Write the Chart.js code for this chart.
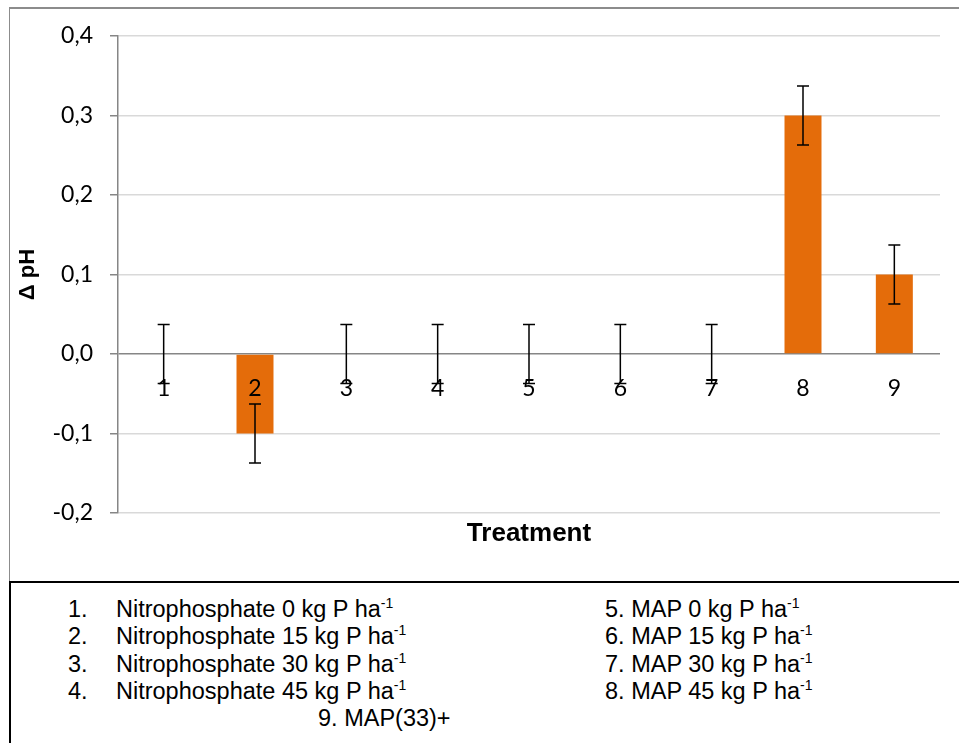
<!DOCTYPE html>
<html>
<head>
<meta charset="utf-8">
<title>Δ pH by treatment</title>
<script src="https://cdn.jsdelivr.net/npm/chart.js"></script>
<style>
  html, body { margin: 0; padding: 0; background: #fff; }
  body { position: relative; width: 959px; height: 743px; overflow: hidden;
         font-family: "Liberation Sans", Arial, sans-serif; color: #000; }
  #frame { position: absolute; left: 9px; top: 7px; width: 960px; height: 590px;
           border-left: 1px solid #8c8c8c; border-top: 2px solid #8c8c8c; }
  #plot { position: absolute; left: 0; top: 0; }
  #key { position: absolute; left: 9px; top: 581px; width: 960px; height: 170px;
         border-top: 2px solid #000; border-left: 2px solid #000; background: #fff; }
  .line { position: absolute; font-size: 23.5px; line-height: 27px; white-space: nowrap; }
  .line sup { font-size: 14px; line-height: 0; vertical-align: 9px; }
</style>
</head>
<body>
<div id="frame"></div>
<canvas id="plot" width="959" height="582"></canvas>
<div id="key"></div>

<script>
// treatments on the x axis
const categories = ['1', '2', '3', '4', '5', '6', '7', '8', '9'];
// change in pH per treatment and its error
const deltaPH = [0, -0.1, 0, 0, 0, 0, 0, 0.3, 0.1];
const errPH = [0.037, 0.037, 0.037, 0.037, 0.037, 0.037, 0.037, 0.037, 0.037];
// y axis ticks
const yTicks = [-0.2, -0.1, 0, 0.1, 0.2, 0.3, 0.4];

// key under the chart
const keyLeft = ['Nitrophosphate 0 kg P ha', 'Nitrophosphate 15 kg P ha',
                 'Nitrophosphate 30 kg P ha', 'Nitrophosphate 45 kg P ha'];
const keyRight = ['5. MAP 0 kg P ha', '6. MAP 15 kg P ha', '7. MAP 30 kg P ha', '8. MAP 45 kg P ha'];
const keyLast = '9. MAP(33)+';

function buildKey() {
  const key = document.getElementById('key');
  const rowTop = i => 13 + i * 27.3;
  const add = (html, left, top) => {
    const d = document.createElement('div');
    d.className = 'line';
    d.style.left = left + 'px';
    d.style.top = top + 'px';
    d.innerHTML = html;
    key.appendChild(d);
  };
  keyLeft.forEach((t, i) => {
    add((i + 1) + '.', 57, rowTop(i));
    add(t + '<sup>-1</sup>', 105, rowTop(i));
  });
  keyRight.forEach((t, i) => add(t + '<sup>-1</sup>', 594, rowTop(i)));
  add(keyLast, 307, rowTop(4));
}
buildKey();

const fmt = v => v.toFixed(1).replace('.', ',');

// whiskers for each bar
const errorBars = {
  id: 'errorBars',
  afterDatasetsDraw(chart) {
    const { ctx, scales: { y } } = chart;
    const meta = chart.getDatasetMeta(0);
    ctx.save();
    ctx.strokeStyle = '#000';
    ctx.lineWidth = 1.5;
    meta.data.forEach((bar, i) => {
      const top = y.getPixelForValue(deltaPH[i] + errPH[i]);
      const bot = y.getPixelForValue(deltaPH[i] - errPH[i]);
      ctx.beginPath();
      ctx.moveTo(bar.x, top); ctx.lineTo(bar.x, bot);
      ctx.moveTo(bar.x - 6, top); ctx.lineTo(bar.x + 6, top);
      ctx.moveTo(bar.x - 6, bot); ctx.lineTo(bar.x + 6, bot);
      ctx.stroke();
    });
    ctx.restore();
  }
};

// category numbers sit just under the zero line
const zeroLabels = {
  id: 'zeroLabels',
  afterDraw(chart) {
    const { ctx, scales: { x, y } } = chart;
    const y0 = y.getPixelForValue(0);
    ctx.save();
    ctx.fillStyle = '#000';
    ctx.font = '23px Lato, "Open Sans", sans-serif';
    ctx.textAlign = 'center';
    ctx.textBaseline = 'middle';
    categories.forEach((c, i) => ctx.fillText(c, x.getPixelForValue(i), y0 + 35));
    ctx.restore();
  }
};

Chart.defaults.color = '#000';

new Chart(document.getElementById('plot'), {
  type: 'bar',
  data: {
    labels: categories,
    datasets: [{
      data: deltaPH,
      backgroundColor: '#E46C0A',
      categoryPercentage: 1,
      barPercentage: 0.405
    }]
  },
  options: {
    responsive: false,
    animation: false,
    devicePixelRatio: 1,
    layout: { padding: { left: 0, top: 36, right: 19, bottom: 21 } },
    plugins: { legend: { display: false }, tooltip: { enabled: false } },
    scales: {
      x: {
        grid: { display: false },
        border: { display: false },
        ticks: { display: false },
        title: {
          display: true,
          text: 'Treatment',
          font: { family: '"Liberation Sans", Arial, sans-serif', size: 26, weight: 'bold' },
          padding: { top: 0, bottom: 12 }
        },
        afterFit(s) { s.height = 48; }
      },
      y: {
        min: -0.2,
        max: 0.4,
        afterBuildTicks(s) { s.ticks = yTicks.map(v => ({ value: v })); },
        ticks: {
          font: { family: 'Lato, "Open Sans", sans-serif', size: 23 },
          padding: 17,
          callback: v => fmt(v)
        },
        grid: {
          color: c => (c.tick && c.tick.value === 0 ? '#868686' : '#d9d9d9'),
          lineWidth: 1.5,
          tickColor: '#868686',
          tickLength: 8
        },
        border: { display: true, color: '#868686', width: 1.5 },
        title: {
          display: true,
          text: 'Δ pH',
          font: { family: '"Liberation Sans", Arial, sans-serif', size: 22, weight: 'bold' },
          padding: { top: 15, bottom: 0 }
        },
        afterFit(s) { s.width = 118; }
      }
    }
  },
  plugins: [errorBars, zeroLabels]
});
</script>
</body>
</html>
